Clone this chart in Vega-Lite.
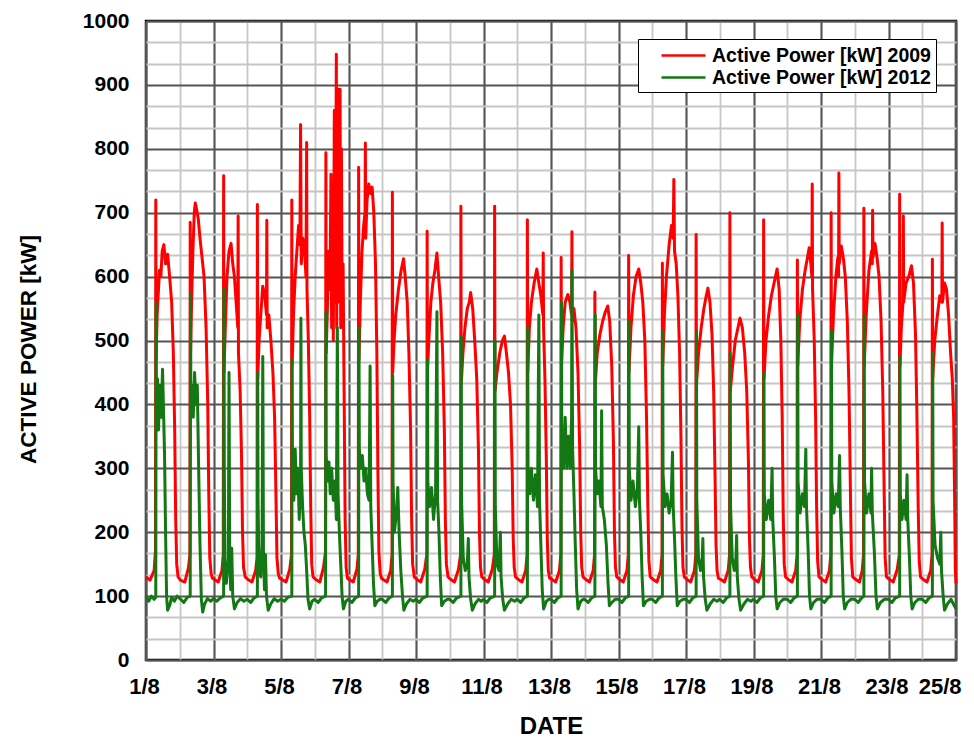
{
  "$schema": "https://vega.github.io/schema/vega-lite/v6.json",
  "width": 810,
  "height": 639,
  "autosize": "none",
  "padding": {"left": 146, "top": 21, "right": 18, "bottom": 80},
  "background": "#ffffff",
  "config": {
    "font": "Liberation Sans",
    "view": {"stroke": "#000000", "strokeWidth": 2.5}
  },
  "datasets": {
    "p2009": [
      {"day":1.00,"kW":130},{"day":1.12,"kW":125},{"day":1.24,"kW":140},{"day":1.28,"kW":170},{"day":1.29,"kW":720},{"day":1.30,"kW":470},{"day":1.33,"kW":540},{"day":1.37,"kW":580},{"day":1.40,"kW":610},{"day":1.44,"kW":600},{"day":1.48,"kW":640},{"day":1.53,"kW":650},{"day":1.58,"kW":620},{"day":1.64,"kW":635},{"day":1.70,"kW":600},{"day":1.76,"kW":560},{"day":1.81,"kW":480},{"day":1.85,"kW":360},{"day":1.88,"kW":220},{"day":1.91,"kW":150},{"day":1.95,"kW":130},
      {"day":2.02,"kW":125},{"day":2.15,"kW":122},{"day":2.26,"kW":145},{"day":2.30,"kW":165},{"day":2.31,"kW":685},{"day":2.32,"kW":480},{"day":2.35,"kW":560},{"day":2.39,"kW":640},{"day":2.43,"kW":700},{"day":2.46,"kW":715},{"day":2.50,"kW":705},{"day":2.55,"kW":690},{"day":2.60,"kW":660},{"day":2.66,"kW":630},{"day":2.72,"kW":600},{"day":2.78,"kW":520},{"day":2.83,"kW":400},{"day":2.86,"kW":260},{"day":2.89,"kW":160},{"day":2.93,"kW":135},{"day":2.97,"kW":128},
      {"day":3.03,"kW":126},{"day":3.14,"kW":122},{"day":3.25,"kW":140},{"day":3.29,"kW":165},{"day":3.30,"kW":758},{"day":3.31,"kW":450},{"day":3.35,"kW":520},{"day":3.40,"kW":600},{"day":3.46,"kW":640},{"day":3.52,"kW":652},{"day":3.57,"kW":620},{"day":3.62,"kW":600},{"day":3.67,"kW":560},{"day":3.72,"kW":520},{"day":3.73,"kW":695},{"day":3.74,"kW":480},{"day":3.79,"kW":420},{"day":3.83,"kW":320},{"day":3.86,"kW":200},{"day":3.89,"kW":145},{"day":3.94,"kW":130},
      {"day":4.02,"kW":126},{"day":4.14,"kW":122},{"day":4.25,"kW":140},{"day":4.29,"kW":160},{"day":4.30,"kW":713},{"day":4.31,"kW":440},{"day":4.35,"kW":500},{"day":4.40,"kW":540},{"day":4.46,"kW":585},{"day":4.52,"kW":570},{"day":4.57,"kW":540},{"day":4.58,"kW":688},{"day":4.59,"kW":520},{"day":4.64,"kW":540},{"day":4.70,"kW":500},{"day":4.76,"kW":450},{"day":4.81,"kW":380},{"day":4.85,"kW":260},{"day":4.88,"kW":160},{"day":4.92,"kW":135},{"day":4.96,"kW":128},
      {"day":5.03,"kW":126},{"day":5.15,"kW":122},{"day":5.26,"kW":142},{"day":5.31,"kW":165},{"day":5.32,"kW":720},{"day":5.33,"kW":460},{"day":5.37,"kW":540},{"day":5.42,"kW":600},{"day":5.47,"kW":640},{"day":5.52,"kW":680},{"day":5.56,"kW":650},{"day":5.58,"kW":838},{"day":5.60,"kW":620},{"day":5.65,"kW":660},{"day":5.70,"kW":640},{"day":5.74,"kW":600},{"day":5.76,"kW":810},{"day":5.77,"kW":580},{"day":5.81,"kW":500},{"day":5.85,"kW":380},{"day":5.88,"kW":240},{"day":5.91,"kW":150},{"day":5.95,"kW":130},
      {"day":6.03,"kW":126},{"day":6.15,"kW":122},{"day":6.26,"kW":145},{"day":6.32,"kW":170},{"day":6.33,"kW":794},{"day":6.34,"kW":480},{"day":6.38,"kW":560},{"day":6.42,"kW":640},{"day":6.45,"kW":580},{"day":6.48,"kW":760},{"day":6.50,"kW":520},{"day":6.53,"kW":720},{"day":6.55,"kW":500},{"day":6.58,"kW":860},{"day":6.60,"kW":560},{"day":6.62,"kW":700},{"day":6.64,"kW":948},{"day":6.65,"kW":520},{"day":6.67,"kW":780},{"day":6.69,"kW":560},{"day":6.71,"kW":893},{"day":6.73,"kW":600},{"day":6.75,"kW":893},{"day":6.77,"kW":520},{"day":6.79,"kW":800},{"day":6.81,"kW":560},{"day":6.84,"kW":620},{"day":6.87,"kW":420},{"day":6.90,"kW":220},{"day":6.93,"kW":145},{"day":6.97,"kW":128},
      {"day":7.02,"kW":126},{"day":7.14,"kW":122},{"day":7.25,"kW":142},{"day":7.29,"kW":165},{"day":7.30,"kW":771},{"day":7.31,"kW":470},{"day":7.35,"kW":560},{"day":7.40,"kW":640},{"day":7.45,"kW":680},{"day":7.49,"kW":700},{"day":7.50,"kW":809},{"day":7.51,"kW":660},{"day":7.55,"kW":720},{"day":7.60,"kW":745},{"day":7.65,"kW":730},{"day":7.70,"kW":740},{"day":7.75,"kW":700},{"day":7.80,"kW":620},{"day":7.84,"kW":480},{"day":7.87,"kW":300},{"day":7.90,"kW":170},{"day":7.94,"kW":135},{"day":7.98,"kW":128},
      {"day":8.03,"kW":126},{"day":8.14,"kW":122},{"day":8.25,"kW":140},{"day":8.29,"kW":165},{"day":8.30,"kW":732},{"day":8.31,"kW":450},{"day":8.35,"kW":500},{"day":8.40,"kW":540},{"day":8.48,"kW":580},{"day":8.56,"kW":610},{"day":8.63,"kW":628},{"day":8.68,"kW":600},{"day":8.74,"kW":560},{"day":8.79,"kW":480},{"day":8.84,"kW":360},{"day":8.87,"kW":220},{"day":8.90,"kW":150},{"day":8.95,"kW":130},
      {"day":9.03,"kW":126},{"day":9.14,"kW":122},{"day":9.26,"kW":142},{"day":9.32,"kW":165},{"day":9.33,"kW":671},{"day":9.34,"kW":450},{"day":9.38,"kW":500},{"day":9.44,"kW":560},{"day":9.50,"kW":590},{"day":9.56,"kW":610},{"day":9.62,"kW":637},{"day":9.67,"kW":600},{"day":9.73,"kW":560},{"day":9.79,"kW":480},{"day":9.84,"kW":360},{"day":9.87,"kW":220},{"day":9.90,"kW":150},{"day":9.95,"kW":130},
      {"day":10.03,"kW":126},{"day":10.14,"kW":122},{"day":10.26,"kW":142},{"day":10.32,"kW":165},{"day":10.33,"kW":710},{"day":10.34,"kW":430},{"day":10.39,"kW":480},{"day":10.45,"kW":520},{"day":10.52,"kW":550},{"day":10.58,"kW":560},{"day":10.62,"kW":575},{"day":10.68,"kW":550},{"day":10.74,"kW":500},{"day":10.80,"kW":440},{"day":10.85,"kW":330},{"day":10.88,"kW":200},{"day":10.91,"kW":145},{"day":10.95,"kW":130},
      {"day":11.03,"kW":126},{"day":11.14,"kW":122},{"day":11.26,"kW":142},{"day":11.32,"kW":165},{"day":11.33,"kW":710},{"day":11.34,"kW":420},{"day":11.40,"kW":450},{"day":11.48,"kW":480},{"day":11.56,"kW":500},{"day":11.62,"kW":507},{"day":11.68,"kW":480},{"day":11.74,"kW":450},{"day":11.80,"kW":400},{"day":11.85,"kW":300},{"day":11.88,"kW":190},{"day":11.91,"kW":145},{"day":11.95,"kW":130},
      {"day":12.03,"kW":126},{"day":12.14,"kW":122},{"day":12.25,"kW":140},{"day":12.29,"kW":165},{"day":12.30,"kW":689},{"day":12.31,"kW":450},{"day":12.36,"kW":520},{"day":12.42,"kW":560},{"day":12.50,"kW":590},{"day":12.58,"kW":612},{"day":12.64,"kW":590},{"day":12.70,"kW":570},{"day":12.76,"kW":540},{"day":12.77,"kW":637},{"day":12.78,"kW":520},{"day":12.82,"kW":440},{"day":12.86,"kW":320},{"day":12.89,"kW":190},{"day":12.92,"kW":140},{"day":12.96,"kW":128},
      {"day":13.03,"kW":126},{"day":13.14,"kW":122},{"day":13.25,"kW":140},{"day":13.29,"kW":165},{"day":13.30,"kW":630},{"day":13.31,"kW":460},{"day":13.36,"kW":520},{"day":13.42,"kW":560},{"day":13.50,"kW":572},{"day":13.56,"kW":560},{"day":13.61,"kW":540},{"day":13.62,"kW":670},{"day":13.63,"kW":530},{"day":13.68,"kW":550},{"day":13.74,"kW":520},{"day":13.80,"kW":450},{"day":13.85,"kW":330},{"day":13.88,"kW":200},{"day":13.91,"kW":145},{"day":13.95,"kW":130},
      {"day":14.03,"kW":126},{"day":14.14,"kW":122},{"day":14.25,"kW":140},{"day":14.29,"kW":165},{"day":14.30,"kW":576},{"day":14.31,"kW":430},{"day":14.37,"kW":480},{"day":14.45,"kW":510},{"day":14.53,"kW":530},{"day":14.61,"kW":545},{"day":14.68,"kW":554},{"day":14.74,"kW":530},{"day":14.80,"kW":460},{"day":14.85,"kW":340},{"day":14.88,"kW":200},{"day":14.91,"kW":145},{"day":14.95,"kW":130},
      {"day":15.03,"kW":126},{"day":15.14,"kW":122},{"day":15.25,"kW":140},{"day":15.29,"kW":165},{"day":15.30,"kW":633},{"day":15.31,"kW":450},{"day":15.37,"kW":520},{"day":15.44,"kW":570},{"day":15.52,"kW":600},{"day":15.60,"kW":612},{"day":15.66,"kW":590},{"day":15.72,"kW":560},{"day":15.78,"kW":500},{"day":15.83,"kW":380},{"day":15.87,"kW":240},{"day":15.90,"kW":155},{"day":15.94,"kW":130},
      {"day":16.03,"kW":126},{"day":16.14,"kW":122},{"day":16.25,"kW":140},{"day":16.29,"kW":165},{"day":16.30,"kW":621},{"day":16.31,"kW":460},{"day":16.36,"kW":540},{"day":16.42,"kW":600},{"day":16.50,"kW":650},{"day":16.57,"kW":680},{"day":16.62,"kW":660},{"day":16.64,"kW":752},{"day":16.66,"kW":640},{"day":16.71,"kW":620},{"day":16.76,"kW":570},{"day":16.81,"kW":480},{"day":16.85,"kW":350},{"day":16.88,"kW":210},{"day":16.91,"kW":145},{"day":16.95,"kW":130},
      {"day":17.03,"kW":126},{"day":17.14,"kW":122},{"day":17.25,"kW":140},{"day":17.29,"kW":165},{"day":17.30,"kW":666},{"day":17.31,"kW":430},{"day":17.37,"kW":480},{"day":17.45,"kW":520},{"day":17.53,"kW":550},{"day":17.60,"kW":570},{"day":17.65,"kW":582},{"day":17.71,"kW":560},{"day":17.77,"kW":510},{"day":17.82,"kW":420},{"day":17.86,"kW":290},{"day":17.89,"kW":180},{"day":17.92,"kW":140},{"day":17.96,"kW":128},
      {"day":18.03,"kW":126},{"day":18.14,"kW":122},{"day":18.25,"kW":140},{"day":18.29,"kW":165},{"day":18.30,"kW":700},{"day":18.31,"kW":420},{"day":18.38,"kW":460},{"day":18.46,"kW":500},{"day":18.54,"kW":520},{"day":18.60,"kW":535},{"day":18.67,"kW":520},{"day":18.74,"kW":480},{"day":18.80,"kW":420},{"day":18.85,"kW":310},{"day":18.88,"kW":190},{"day":18.91,"kW":145},{"day":18.95,"kW":130},
      {"day":19.03,"kW":126},{"day":19.14,"kW":122},{"day":19.25,"kW":140},{"day":19.29,"kW":165},{"day":19.30,"kW":689},{"day":19.31,"kW":440},{"day":19.37,"kW":500},{"day":19.45,"kW":540},{"day":19.53,"kW":570},{"day":19.61,"kW":590},{"day":19.70,"kW":612},{"day":19.76,"kW":580},{"day":19.81,"kW":500},{"day":19.85,"kW":380},{"day":19.88,"kW":230},{"day":19.91,"kW":150},{"day":19.95,"kW":130},
      {"day":20.03,"kW":126},{"day":20.14,"kW":122},{"day":20.25,"kW":140},{"day":20.29,"kW":165},{"day":20.30,"kW":626},{"day":20.31,"kW":460},{"day":20.37,"kW":530},{"day":20.45,"kW":580},{"day":20.53,"kW":610},{"day":20.60,"kW":630},{"day":20.65,"kW":645},{"day":20.70,"kW":620},{"day":20.73,"kW":600},{"day":20.74,"kW":745},{"day":20.75,"kW":580},{"day":20.80,"kW":500},{"day":20.84,"kW":380},{"day":20.87,"kW":240},{"day":20.90,"kW":155},{"day":20.94,"kW":130},
      {"day":21.03,"kW":126},{"day":21.14,"kW":122},{"day":21.25,"kW":140},{"day":21.29,"kW":165},{"day":21.30,"kW":700},{"day":21.31,"kW":460},{"day":21.37,"kW":540},{"day":21.44,"kW":600},{"day":21.50,"kW":630},{"day":21.52,"kW":600},{"day":21.53,"kW":762},{"day":21.54,"kW":620},{"day":21.60,"kW":648},{"day":21.66,"kW":630},{"day":21.72,"kW":600},{"day":21.78,"kW":530},{"day":21.83,"kW":420},{"day":21.87,"kW":270},{"day":21.90,"kW":160},{"day":21.94,"kW":130},
      {"day":22.03,"kW":126},{"day":22.14,"kW":122},{"day":22.22,"kW":140},{"day":22.26,"kW":165},{"day":22.27,"kW":707},{"day":22.28,"kW":460},{"day":22.34,"kW":540},{"day":22.42,"kW":610},{"day":22.50,"kW":640},{"day":22.52,"kW":620},{"day":22.53,"kW":704},{"day":22.54,"kW":630},{"day":22.60,"kW":652},{"day":22.66,"kW":630},{"day":22.72,"kW":600},{"day":22.78,"kW":530},{"day":22.83,"kW":420},{"day":22.87,"kW":270},{"day":22.90,"kW":160},{"day":22.94,"kW":130},
      {"day":23.03,"kW":126},{"day":23.14,"kW":122},{"day":23.26,"kW":142},{"day":23.32,"kW":165},{"day":23.33,"kW":729},{"day":23.34,"kW":460},{"day":23.38,"kW":520},{"day":23.43,"kW":560},{"day":23.44,"kW":695},{"day":23.45,"kW":560},{"day":23.52,"kW":590},{"day":23.60,"kW":600},{"day":23.68,"kW":617},{"day":23.74,"kW":590},{"day":23.80,"kW":510},{"day":23.84,"kW":390},{"day":23.88,"kW":240},{"day":23.91,"kW":155},{"day":23.95,"kW":130},
      {"day":24.03,"kW":126},{"day":24.14,"kW":122},{"day":24.25,"kW":140},{"day":24.29,"kW":165},{"day":24.30,"kW":627},{"day":24.31,"kW":440},{"day":24.37,"kW":500},{"day":24.45,"kW":540},{"day":24.52,"kW":570},{"day":24.58,"kW":560},{"day":24.59,"kW":684},{"day":24.60,"kW":560},{"day":24.66,"kW":590},{"day":24.72,"kW":580},{"day":24.78,"kW":540},{"day":24.84,"kW":480},{"day":24.89,"kW":440},{"day":24.93,"kW":380},{"day":24.96,"kW":250},{"day":24.98,"kW":140},{"day":25.00,"kW":120}
    ],
    "p2012": [
      {"day":1.00,"kW":100},{"day":1.08,"kW":92},{"day":1.16,"kW":100},{"day":1.24,"kW":95},{"day":1.29,"kW":98},{"day":1.30,"kW":560},{"day":1.31,"kW":380},{"day":1.34,"kW":440},{"day":1.37,"kW":360},{"day":1.41,"kW":430},{"day":1.45,"kW":380},{"day":1.49,"kW":455},{"day":1.52,"kW":390},{"day":1.55,"kW":320},{"day":1.58,"kW":200},{"day":1.61,"kW":100},{"day":1.64,"kW":78},{"day":1.70,"kW":85},{"day":1.76,"kW":98},{"day":1.84,"kW":92},{"day":1.92,"kW":100},
      {"day":2.03,"kW":95},{"day":2.12,"kW":90},{"day":2.22,"kW":98},{"day":2.31,"kW":100},{"day":2.32,"kW":575},{"day":2.33,"kW":400},{"day":2.36,"kW":430},{"day":2.40,"kW":380},{"day":2.44,"kW":450},{"day":2.48,"kW":400},{"day":2.52,"kW":430},{"day":2.56,"kW":300},{"day":2.60,"kW":180},{"day":2.64,"kW":95},{"day":2.68,"kW":75},{"day":2.74,"kW":88},{"day":2.82,"kW":96},{"day":2.92,"kW":92},
      {"day":3.00,"kW":96},{"day":3.10,"kW":92},{"day":3.20,"kW":97},{"day":3.30,"kW":100},{"day":3.31,"kW":580},{"day":3.32,"kW":300},{"day":3.34,"kW":150},{"day":3.38,"kW":120},{"day":3.44,"kW":160},{"day":3.46,"kW":450},{"day":3.48,"kW":160},{"day":3.51,"kW":110},{"day":3.54,"kW":175},{"day":3.57,"kW":100},{"day":3.62,"kW":80},{"day":3.70,"kW":90},{"day":3.80,"kW":96},{"day":3.90,"kW":92},
      {"day":4.00,"kW":95},{"day":4.10,"kW":90},{"day":4.20,"kW":97},{"day":4.30,"kW":100},{"day":4.31,"kW":450},{"day":4.32,"kW":250},{"day":4.35,"kW":140},{"day":4.40,"kW":130},{"day":4.44,"kW":180},{"day":4.46,"kW":475},{"day":4.48,"kW":170},{"day":4.51,"kW":110},{"day":4.54,"kW":165},{"day":4.57,"kW":100},{"day":4.62,"kW":78},{"day":4.70,"kW":88},{"day":4.80,"kW":96},{"day":4.90,"kW":92},
      {"day":5.00,"kW":95},{"day":5.10,"kW":92},{"day":5.20,"kW":98},{"day":5.32,"kW":100},{"day":5.33,"kW":470},{"day":5.34,"kW":300},{"day":5.38,"kW":250},{"day":5.42,"kW":330},{"day":5.46,"kW":260},{"day":5.50,"kW":300},{"day":5.54,"kW":220},{"day":5.58,"kW":280},{"day":5.59,"kW":535},{"day":5.60,"kW":300},{"day":5.64,"kW":240},{"day":5.68,"kW":200},{"day":5.72,"kW":180},{"day":5.76,"kW":140},{"day":5.80,"kW":95},{"day":5.85,"kW":80},{"day":5.92,"kW":92},
      {"day":6.00,"kW":95},{"day":6.10,"kW":90},{"day":6.20,"kW":97},{"day":6.32,"kW":100},{"day":6.33,"kW":545},{"day":6.34,"kW":320},{"day":6.38,"kW":280},{"day":6.42,"kW":310},{"day":6.46,"kW":260},{"day":6.50,"kW":300},{"day":6.55,"kW":250},{"day":6.60,"kW":280},{"day":6.64,"kW":220},{"day":6.67,"kW":520},{"day":6.69,"kW":260},{"day":6.73,"kW":200},{"day":6.77,"kW":150},{"day":6.81,"kW":100},{"day":6.85,"kW":80},{"day":6.92,"kW":92},
      {"day":7.00,"kW":95},{"day":7.10,"kW":90},{"day":7.20,"kW":97},{"day":7.30,"kW":100},{"day":7.31,"kW":520},{"day":7.32,"kW":330},{"day":7.36,"kW":300},{"day":7.41,"kW":320},{"day":7.46,"kW":280},{"day":7.51,"kW":300},{"day":7.56,"kW":260},{"day":7.61,"kW":250},{"day":7.64,"kW":460},{"day":7.66,"kW":240},{"day":7.70,"kW":180},{"day":7.74,"kW":120},{"day":7.78,"kW":85},{"day":7.85,"kW":92},{"day":7.93,"kW":95},
      {"day":8.00,"kW":95},{"day":8.10,"kW":90},{"day":8.20,"kW":97},{"day":8.30,"kW":100},{"day":8.31,"kW":445},{"day":8.32,"kW":280},{"day":8.36,"kW":200},{"day":8.42,"kW":230},{"day":8.46,"kW":270},{"day":8.50,"kW":200},{"day":8.55,"kW":140},{"day":8.60,"kW":100},{"day":8.64,"kW":78},{"day":8.72,"kW":88},{"day":8.82,"kW":95},{"day":8.92,"kW":92},
      {"day":9.00,"kW":95},{"day":9.10,"kW":90},{"day":9.20,"kW":97},{"day":9.33,"kW":100},{"day":9.34,"kW":470},{"day":9.35,"kW":280},{"day":9.40,"kW":240},{"day":9.46,"kW":270},{"day":9.52,"kW":220},{"day":9.58,"kW":260},{"day":9.62,"kW":545},{"day":9.64,"kW":250},{"day":9.68,"kW":200},{"day":9.72,"kW":130},{"day":9.76,"kW":85},{"day":9.84,"kW":92},{"day":9.93,"kW":95},
      {"day":10.00,"kW":95},{"day":10.10,"kW":90},{"day":10.20,"kW":97},{"day":10.33,"kW":100},{"day":10.34,"kW":505},{"day":10.35,"kW":250},{"day":10.40,"kW":160},{"day":10.46,"kW":140},{"day":10.52,"kW":150},{"day":10.55,"kW":190},{"day":10.57,"kW":130},{"day":10.62,"kW":95},{"day":10.67,"kW":78},{"day":10.75,"kW":88},{"day":10.85,"kW":95},{"day":10.93,"kW":92},
      {"day":11.00,"kW":95},{"day":11.10,"kW":90},{"day":11.20,"kW":97},{"day":11.33,"kW":100},{"day":11.34,"kW":500},{"day":11.35,"kW":240},{"day":11.40,"kW":150},{"day":11.46,"kW":140},{"day":11.50,"kW":200},{"day":11.52,"kW":130},{"day":11.57,"kW":95},{"day":11.62,"kW":78},{"day":11.72,"kW":88},{"day":11.82,"kW":95},{"day":11.92,"kW":92},
      {"day":12.00,"kW":95},{"day":12.10,"kW":90},{"day":12.20,"kW":97},{"day":12.30,"kW":100},{"day":12.31,"kW":520},{"day":12.32,"kW":300},{"day":12.37,"kW":260},{"day":12.42,"kW":300},{"day":12.48,"kW":250},{"day":12.54,"kW":290},{"day":12.60,"kW":240},{"day":12.64,"kW":540},{"day":12.66,"kW":250},{"day":12.70,"kW":180},{"day":12.74,"kW":110},{"day":12.78,"kW":80},{"day":12.86,"kW":92},{"day":12.94,"kW":95},
      {"day":13.00,"kW":95},{"day":13.10,"kW":90},{"day":13.20,"kW":97},{"day":13.30,"kW":100},{"day":13.31,"kW":560},{"day":13.32,"kW":330},{"day":13.37,"kW":300},{"day":13.42,"kW":380},{"day":13.47,"kW":300},{"day":13.52,"kW":350},{"day":13.57,"kW":300},{"day":13.61,"kW":380},{"day":13.62,"kW":610},{"day":13.64,"kW":330},{"day":13.68,"kW":260},{"day":13.72,"kW":180},{"day":13.76,"kW":110},{"day":13.80,"kW":80},{"day":13.88,"kW":92},{"day":13.95,"kW":95},
      {"day":14.00,"kW":95},{"day":14.10,"kW":90},{"day":14.20,"kW":97},{"day":14.30,"kW":100},{"day":14.31,"kW":540},{"day":14.32,"kW":300},{"day":14.37,"kW":260},{"day":14.42,"kW":280},{"day":14.48,"kW":240},{"day":14.50,"kW":390},{"day":14.52,"kW":240},{"day":14.58,"kW":220},{"day":14.64,"kW":180},{"day":14.69,"kW":120},{"day":14.73,"kW":85},{"day":14.80,"kW":90},{"day":14.90,"kW":95},
      {"day":15.00,"kW":95},{"day":15.10,"kW":90},{"day":15.20,"kW":97},{"day":15.30,"kW":100},{"day":15.31,"kW":530},{"day":15.32,"kW":300},{"day":15.37,"kW":250},{"day":15.43,"kW":280},{"day":15.50,"kW":240},{"day":15.56,"kW":270},{"day":15.60,"kW":365},{"day":15.62,"kW":250},{"day":15.66,"kW":200},{"day":15.70,"kW":130},{"day":15.74,"kW":85},{"day":15.82,"kW":92},{"day":15.92,"kW":95},
      {"day":16.00,"kW":95},{"day":16.10,"kW":90},{"day":16.20,"kW":97},{"day":16.30,"kW":100},{"day":16.31,"kW":515},{"day":16.32,"kW":290},{"day":16.38,"kW":240},{"day":16.44,"kW":260},{"day":16.50,"kW":230},{"day":16.56,"kW":250},{"day":16.60,"kW":325},{"day":16.62,"kW":240},{"day":16.66,"kW":190},{"day":16.70,"kW":130},{"day":16.74,"kW":85},{"day":16.82,"kW":92},{"day":16.92,"kW":95},
      {"day":17.00,"kW":95},{"day":17.10,"kW":90},{"day":17.20,"kW":97},{"day":17.30,"kW":100},{"day":17.31,"kW":515},{"day":17.32,"kW":250},{"day":17.37,"kW":160},{"day":17.43,"kW":140},{"day":17.48,"kW":160},{"day":17.50,"kW":190},{"day":17.52,"kW":130},{"day":17.57,"kW":95},{"day":17.62,"kW":78},{"day":17.72,"kW":88},{"day":17.82,"kW":95},{"day":17.92,"kW":92},
      {"day":18.00,"kW":95},{"day":18.10,"kW":90},{"day":18.20,"kW":97},{"day":18.30,"kW":100},{"day":18.31,"kW":480},{"day":18.32,"kW":240},{"day":18.37,"kW":160},{"day":18.43,"kW":140},{"day":18.48,"kW":160},{"day":18.50,"kW":195},{"day":18.52,"kW":130},{"day":18.57,"kW":95},{"day":18.62,"kW":78},{"day":18.72,"kW":88},{"day":18.82,"kW":95},{"day":18.92,"kW":92},
      {"day":19.00,"kW":95},{"day":19.10,"kW":90},{"day":19.20,"kW":97},{"day":19.30,"kW":100},{"day":19.31,"kW":450},{"day":19.32,"kW":260},{"day":19.38,"kW":220},{"day":19.45,"kW":250},{"day":19.51,"kW":220},{"day":19.55,"kW":300},{"day":19.57,"kW":220},{"day":19.62,"kW":160},{"day":19.66,"kW":100},{"day":19.70,"kW":80},{"day":19.78,"kW":90},{"day":19.88,"kW":95},
      {"day":20.00,"kW":95},{"day":20.10,"kW":90},{"day":20.20,"kW":97},{"day":20.30,"kW":100},{"day":20.31,"kW":540},{"day":20.32,"kW":280},{"day":20.38,"kW":230},{"day":20.45,"kW":260},{"day":20.51,"kW":240},{"day":20.55,"kW":330},{"day":20.57,"kW":240},{"day":20.62,"kW":170},{"day":20.66,"kW":100},{"day":20.70,"kW":80},{"day":20.78,"kW":90},{"day":20.88,"kW":95},
      {"day":21.00,"kW":95},{"day":21.10,"kW":90},{"day":21.20,"kW":97},{"day":21.30,"kW":100},{"day":21.31,"kW":515},{"day":21.32,"kW":280},{"day":21.38,"kW":230},{"day":21.45,"kW":260},{"day":21.51,"kW":240},{"day":21.55,"kW":320},{"day":21.57,"kW":240},{"day":21.62,"kW":170},{"day":21.66,"kW":100},{"day":21.70,"kW":80},{"day":21.78,"kW":90},{"day":21.88,"kW":95},
      {"day":22.00,"kW":95},{"day":22.10,"kW":90},{"day":22.20,"kW":97},{"day":22.27,"kW":100},{"day":22.28,"kW":540},{"day":22.29,"kW":280},{"day":22.35,"kW":230},{"day":22.42,"kW":260},{"day":22.48,"kW":230},{"day":22.50,"kW":300},{"day":22.52,"kW":230},{"day":22.58,"kW":170},{"day":22.63,"kW":100},{"day":22.67,"kW":80},{"day":22.76,"kW":90},{"day":22.88,"kW":95},
      {"day":23.00,"kW":95},{"day":23.10,"kW":90},{"day":23.20,"kW":97},{"day":23.33,"kW":100},{"day":23.34,"kW":475},{"day":23.35,"kW":260},{"day":23.40,"kW":220},{"day":23.46,"kW":250},{"day":23.52,"kW":220},{"day":23.55,"kW":290},{"day":23.57,"kW":220},{"day":23.62,"kW":160},{"day":23.66,"kW":100},{"day":23.70,"kW":80},{"day":23.78,"kW":90},{"day":23.88,"kW":95},
      {"day":24.00,"kW":95},{"day":24.10,"kW":90},{"day":24.20,"kW":97},{"day":24.30,"kW":100},{"day":24.31,"kW":480},{"day":24.32,"kW":250},{"day":24.38,"kW":180},{"day":24.45,"kW":160},{"day":24.52,"kW":150},{"day":24.55,"kW":200},{"day":24.57,"kW":140},{"day":24.62,"kW":100},{"day":24.66,"kW":78},{"day":24.75,"kW":88},{"day":24.85,"kW":95},{"day":24.95,"kW":85},{"day":25.00,"kW":80}
    ]
  },
  "layer": [
    {
      "data": {"name": "p2009"},
      "mark": {"type": "line", "strokeWidth": 3, "strokeJoin": "round"},
      "encoding": {
        "x": {
          "field": "day", "type": "quantitative",
          "scale": {"domain": [1, 25], "nice": false, "zero": false},
          "axis": {
            "orient": "top", "values": [1,2,3,4,5,6,7,8,9,10,11,12,13,14,15,16,17,18,19,20,21,22,23,24,25],
            "grid": true, "gridColor": "#c6c6c6", "gridWidth": 1.8,
            "labels": false, "ticks": false, "domain": false, "title": null
          }
        },
        "y": {
          "field": "kW", "type": "quantitative",
          "scale": {"domain": [0, 1000], "nice": false},
          "axis": {
            "orient": "right", "values": [33.333,66.667,133.333,166.667,233.333,266.667,333.333,366.667,433.333,466.667,533.333,566.667,633.333,666.667,733.333,766.667,833.333,866.667,933.333,966.667],
            "grid": true, "gridColor": "#c6c6c6", "gridWidth": 1.8,
            "labels": false, "ticks": false, "domain": false, "title": null
          }
        },
        "color": {
          "datum": "Active Power [kW] 2009", "type": "nominal",
          "scale": {"domain": ["Active Power [kW] 2009", "Active Power [kW] 2012"], "range": ["#ff0000", "#137813"]},
          "legend": {
            "orient": "none", "legendX": 492, "legendY": 18, "title": null,
            "symbolType": "M-2.2,0H2.2", "symbolSize": 400, "symbolStrokeWidth": 2.5,
            "symbolOffset": 29, "labelOffset": 17, "padding": 5, "rowPadding": 1,
            "labelFontSize": 19.5, "labelFontWeight": "bold", "labelColor": "#000000", "labelLimit": 400,
            "strokeColor": "#000000", "fillColor": "#ffffff"
          }
        }
      }
    },
    {
      "data": {"name": "p2012"},
      "mark": {"type": "line", "strokeWidth": 3, "strokeJoin": "round"},
      "encoding": {
        "x": {
          "field": "day", "type": "quantitative",
          "axis": {
            "orient": "bottom", "values": [1,3,5,7,9,11,13,15,17,19,21,23,25],
            "labelExpr": "datum.value + '/8'", "labelFlush": false, "labelOverlap": false,
            "labelAlign": {"condition": {"test": "datum.value == 25", "value": "right"}, "value": "center"},
            "labelOffset": {"condition": {"test": "datum.value == 25", "value": 5}, "value": -2},
            "grid": true, "gridColor": "#555555", "gridWidth": 2,
            "ticks": false, "domain": false,
            "labelFontSize": 22, "labelFontWeight": "bold", "labelColor": "#000000", "labelPadding": 16,
            "title": "DATE", "titleFontSize": 24, "titleFontWeight": "bold", "titleColor": "#000000",
            "titleBaseline": "middle", "titleY": 66
          }
        },
        "y": {
          "field": "kW", "type": "quantitative",
          "axis": {
            "orient": "left", "values": [0,100,200,300,400,500,600,700,800,900,1000],
            "format": "d", "labelFlush": false,
            "grid": true, "gridColor": "#555555", "gridWidth": 2,
            "ticks": false, "domain": false,
            "labelFontSize": 21, "labelFontWeight": "bold", "labelColor": "#000000", "labelPadding": 17,
            "title": "ACTIVE POWER [kW]", "titleFontSize": 22.5, "titleFontWeight": "bold", "titleColor": "#000000",
            "titleBaseline": "middle", "titleX": -118, "titleY": 328, "titleAngle": 270
          }
        },
        "color": {"datum": "Active Power [kW] 2012", "type": "nominal"}
      }
    }
  ],
  "resolve": {"axis": {"x": "independent", "y": "independent"}}
}
